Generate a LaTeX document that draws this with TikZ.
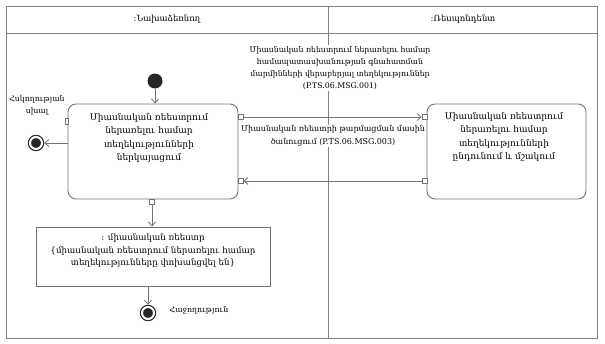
\documentclass[tikz,border=0pt]{standalone}
\usepackage{fontspec}
\setmainfont{DejaVu Serif}
\usetikzlibrary{arrows.meta}
\begin{document}
\begin{tikzpicture}[x=1pt,y=-1pt,
  frame/.style={draw=black!50, line width=0.9pt},
  act/.style={draw=black!55, line width=0.9pt, rounded corners=8pt, inner sep=0pt},
  objbox/.style={draw=black!55, line width=0.9pt, inner sep=0pt},
  txt/.style={align=center, inner sep=0pt, font=\fontsize{9}{13.4}\selectfont},
  msg/.style={align=center, fill=white, inner sep=1pt, font=\fontsize{7.8}{12}\selectfont},
  small/.style={align=center, inner sep=0pt, font=\fontsize{7.8}{12}\selectfont},
  head/.style={inner sep=0pt, font=\fontsize{8.5}{10}\selectfont},
  pin/.style={draw=black!55, fill=white, line width=0.7pt, minimum size=5pt, inner sep=0pt},
  flow/.style={draw=black!55, line width=0.8pt, -{Straight Barb[length=4pt,width=7pt]}},
  initial/.style={circle, fill=black!85, minimum size=15pt, inner sep=0pt},
  final/.style={circle, fill=black!85, minimum size=12pt, inner sep=0pt, draw=black!85,
     double=white, double distance=2pt, line width=1.2pt, outer sep=2.2pt}
]
\useasboundingbox (0,0) rectangle (605,343);
% frame and lanes
\draw[frame] (6,6) rectangle (597,338);
\draw[frame] (6,33) -- (597,33);
\draw[frame] (328,6) -- (328,338);
\node[head] (h1) at (167,19) {:Նախաձեռնող};
\node[head] (h2) at (463,19) {:Ռեսպոնդենտ};

% activities
\node[act, minimum width=170pt, minimum height=95pt] (a1) at (153,151.5) {};
\node[txt] (a1t) at (149,138) {Միասնական ռեեստրում\\ներառելու համար\\տեղեկությունների\\ներկայացում};
\node[act, minimum width=159pt, minimum height=95pt] (a2) at (506.5,151.5) {};
\node[txt] (a2t) at (504,137) {Միասնական ռեեստրում\\ներառելու համար\\տեղեկությունների\\ընդունում և մշակում};

% object node
\node[objbox, minimum width=234pt, minimum height=59pt] (obj) at (153.5,256.5) {};
\node[txt, font=\fontsize{8.7}{12.5}\selectfont] (objt) at (153,251) {: միասնական ռեեստր\\\{միասնական ռեեստրում ներառելու համար\\տեղեկությունները փոխանցվել են\}};

% pins
\node[pin] (p1) at (240.5,117) {};
\node[pin] (p2) at (424.5,117) {};
\node[pin] (p3) at (424.5,181) {};
\node[pin] (p4) at (240.5,181) {};
\node[pin] (p5) at (152,201.5) {};
\node[pin, minimum width=3pt, minimum height=6pt] (p6) at (66.5,121) {};

% initial and final nodes
\node[initial] (init) at (155,81) {};
\node[final] (fe1) at (36,143) {};
\node[final] (fe2) at (148,313) {};

% flows
\draw[flow] (init) -- (init |- a1.north);
\draw[flow] (p1) -- (p2);
\draw[flow] (p3) -- (p4);
\draw[flow] (a1.west |- fe1) -- (fe1);
\draw[flow] (p5) -- (p5 |- obj.north);
\draw[flow] (obj.south -| fe2) -- (fe2);

% labels
\node[msg] (m1) at (340,68) {Միասնական ռեեստրում ներառելու համար\\համապատասխանության գնահատման\\մարմինների վերաբերյալ տեղեկություններ\\(P.TS.06.MSG.001)};
\node[msg, font=\fontsize{8}{13}\selectfont] (m3) at (333,136) {Միասնական ռեեստրի թարմացման մասին\\ծանուցում (P.TS.06.MSG.003)};
\node[small] (l1) at (37,105) {Հսկողության\\սխալ};
\node[small] (l2) at (199,310) {Հաջողություն};
\end{tikzpicture}
\end{document}
